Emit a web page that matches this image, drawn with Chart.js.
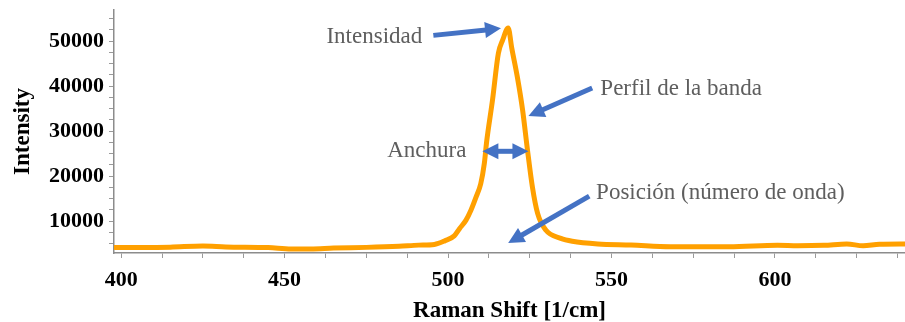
<!DOCTYPE html>
<html>
<head>
<meta charset="utf-8">
<script src="https://cdn.jsdelivr.net/npm/chart.js@4/dist/chart.umd.min.js"></script>
<style>
  html, body { margin: 0; padding: 0; background: #fff; }
  #wrap { width: 905px; height: 322px; position: relative; }
</style>
</head>
<body>
<div id="wrap"><canvas id="c"></canvas></div>
<script>
// ---- data ----
const ramanShift = [398, 405, 415, 425, 432, 445, 452, 458, 465, 475, 485, 491, 495.8, 499, 501.9, 503.5, 505.5, 507, 508.5, 510, 511.1, 511.8, 513.6, 515.4, 516.7, 518.4, 519.5, 521.2, 522.8, 524.3, 525.8, 527.4, 529.9, 534.5, 538, 545.8, 556, 568, 586, 600.8, 607, 615, 622, 627, 632, 640];
const intensity  = [4150, 4150, 4200, 4450, 4250, 4100, 3800, 3800, 4000, 4150, 4400, 4650, 4800, 5600, 6700, 8300, 10200, 12400, 15200, 18300, 22800, 27600, 36900, 47300, 50200, 52900, 48400, 42000, 34700, 25800, 17600, 11700, 8000, 6150, 5500, 4900, 4670, 4300, 4300, 4650, 4500, 4600, 4900, 4500, 4850, 4900];
const xTickLabels = [400, 450, 500, 550, 600];
const yTickLabels = [10000, 20000, 30000, 40000, 50000];
const xMinorStep = 12.5;
const yMinorStep = 2500;
const xTitle = 'Raman Shift [1/cm]';
const yTitle = 'Intensity';

// annotations (anchored in data coordinates)
const annoTexts = ['Intensidad', 'Perfil de la banda', 'Anchura', 'Posición (número de onda)'];
const annoTextX = [492.1, 546.6, 505.6, 545.3];
const annoTextY = [50830, 39400, 25530, 16200];
const annoAlign = ['right', 'left', 'right', 'left'];
const arrowFromX = [495.5, 544.1, 510.5, 543.2];
const arrowFromY = [51260, 39550, 25500, 15550];
const arrowToX   = [516.2, 524.6, 524.6, 518.4];
const arrowToY   = [52820, 33330, 25500, 5110];
const arrowDouble = [false, false, true, false];

const points = ramanShift.map((x, i) => ({ x: x, y: intensity[i] }));

function tickValues(scale, step) {
  const out = [];
  const start = Math.ceil(scale.min / step);
  const end = Math.floor(scale.max / step);
  for (let k = start; k <= end; k++) out.push({ value: k * step });
  return out;
}

function drawArrowHead(ctx, x1, y1, x2, y2, len, half) {
  const a = Math.atan2(y2 - y1, x2 - x1);
  ctx.beginPath();
  ctx.moveTo(x2, y2);
  ctx.lineTo(x2 - len * Math.cos(a) + half * Math.sin(a), y2 - len * Math.sin(a) - half * Math.cos(a));
  ctx.lineTo(x2 - len * Math.cos(a) - half * Math.sin(a), y2 - len * Math.sin(a) + half * Math.cos(a));
  ctx.closePath();
  ctx.fill();
}

const annotationPlugin = {
  id: 'annos',
  afterDatasetsDraw(chart) {
    const ctx = chart.ctx;
    const xs = chart.scales.x, ys = chart.scales.y;
    ctx.save();
    ctx.font = '23px "Liberation Serif", "DejaVu Serif", serif';
    ctx.fillStyle = '#5e5e5e';
    ctx.textBaseline = 'middle';
    annoTexts.forEach((t, i) => {
      ctx.textAlign = annoAlign[i];
      ctx.fillText(t, xs.getPixelForValue(annoTextX[i]), ys.getPixelForValue(annoTextY[i]));
    });
    ctx.strokeStyle = '#4472c4';
    ctx.fillStyle = '#4472c4';
    ctx.lineWidth = 5;
    ctx.lineCap = 'butt';
    const L = 16, H = 8;
    arrowFromX.forEach((fx, i) => {
      const x1 = xs.getPixelForValue(fx), y1 = ys.getPixelForValue(arrowFromY[i]);
      const x2 = xs.getPixelForValue(arrowToX[i]), y2 = ys.getPixelForValue(arrowToY[i]);
      const a = Math.atan2(y2 - y1, x2 - x1);
      let sx = x1, sy = y1;
      if (arrowDouble[i]) { sx = x1 + (L - 1) * Math.cos(a); sy = y1 + (L - 1) * Math.sin(a); }
      const ex = x2 - (L - 1) * Math.cos(a), ey = y2 - (L - 1) * Math.sin(a);
      ctx.beginPath();
      ctx.moveTo(sx, sy);
      ctx.lineTo(ex, ey);
      ctx.stroke();
      drawArrowHead(ctx, x1, y1, x2, y2, L, H);
      if (arrowDouble[i]) drawArrowHead(ctx, x2, y2, x1, y1, L, H);
    });
    ctx.restore();
  }
};

const tickFont = { family: '"Liberation Serif", "DejaVu Serif", serif', size: 22, weight: 'bold' };
const titleFont = { family: '"Liberation Serif", "DejaVu Serif", serif', size: 23, weight: 'bold', lineHeight: 1 };

new Chart(document.getElementById('c'), {
  type: 'line',
  data: {
    datasets: [{
      data: points,
      borderColor: '#ffa000',
      borderWidth: 5,
      pointRadius: 0,
      fill: false,
      cubicInterpolationMode: 'monotone',
      borderJoinStyle: 'round',
      borderCapStyle: 'round'
    }]
  },
  options: {
    responsive: true,
    maintainAspectRatio: false,
    animation: false,
    layout: { padding: { top: 10, right: 0, left: 0, bottom: 0 } },
    plugins: { legend: { display: false }, tooltip: { enabled: false } },
    scales: {
      x: {
        type: 'linear',
        min: 397.8,
        max: 639.8,
        afterFit(s) { s.height = 69; s.paddingLeft = 0; s.paddingRight = 0; },
        afterBuildTicks(s) { s.ticks = tickValues(s, xMinorStep); },
        border: { display: true, color: '#8c8c8c', width: 1.5 },
        grid: { display: true, drawOnChartArea: false, drawTicks: true, tickLength: 5, color: '#9a9a9a', tickColor: '#9a9a9a' },
        ticks: {
          autoSkip: false,
          maxRotation: 0,
          padding: 9,
          color: '#000',
          font: tickFont,
          callback: (v) => xTickLabels.some(t => Math.abs(t - v) < 1e-6) ? String(Math.round(v)) : ''
        },
        title: { display: true, text: xTitle, color: '#000', font: titleFont, padding: { top: 0, bottom: -1 } }
      },
      y: {
        type: 'linear',
        min: 2900,
        max: 56900,
        afterFit(s) { s.width = 114; s.paddingTop = 0; s.paddingBottom = 0; },
        afterBuildTicks(s) { s.ticks = tickValues(s, yMinorStep); },
        border: { display: true, color: '#8c8c8c', width: 1.5 },
        grid: { display: true, drawOnChartArea: false, drawTicks: true, tickLength: 5, color: '#9a9a9a', tickColor: '#9a9a9a' },
        ticks: {
          autoSkip: false,
          padding: 5,
          color: '#000',
          font: tickFont,
          callback: (v) => yTickLabels.some(t => Math.abs(t - v) < 1e-6) ? String(Math.round(v)) : ''
        },
        title: { display: true, text: yTitle, color: '#000', font: titleFont, padding: { top: 12, bottom: 0 } }
      }
    }
  },
  plugins: [annotationPlugin]
});
</script>
</body>
</html>
